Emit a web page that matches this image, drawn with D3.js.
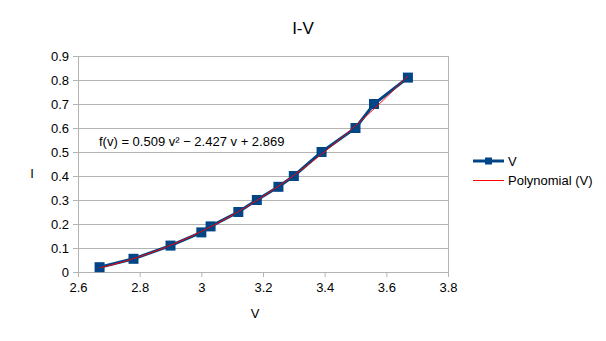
<!DOCTYPE html>
<html><head><meta charset="utf-8">
<script src="https://cdn.jsdelivr.net/npm/d3@7"></script>
<style>body{margin:0;background:#fff}svg{display:block;font-family:"Liberation Sans",Arial,sans-serif}</style>
</head><body><svg id="c" width="606" height="341"></svg>
<script>
const vValues = [2.67, 2.78, 2.90, 3.00, 3.03, 3.12, 3.18, 3.25, 3.30, 3.39, 3.50, 3.56, 3.67];
const iValues = [0.02, 0.055, 0.11, 0.165, 0.19, 0.25, 0.30, 0.355, 0.40, 0.50, 0.60, 0.70, 0.81];
const polyCoefs = [0.509, -2.427, 2.869];
const xTicks = [2.6, 2.8, 3, 3.2, 3.4, 3.6, 3.8];
const yTicks = [0, 0.1, 0.2, 0.3, 0.4, 0.5, 0.6, 0.7, 0.8, 0.9];
const seriesNames = ["V", "Polynomial (V)"];

const svg = d3.select("#c");
const L = 78, R = 448, T = 56, B = 272;
const x = d3.scaleLinear().domain([2.6, 3.8]).range([L, R]);
const y = d3.scaleLinear().domain([0, 0.9]).range([B, T]);

// grid
svg.append("g").selectAll("line").data(yTicks).join("line")
  .attr("x1", L).attr("x2", R).attr("y1", d => y(d)).attr("y2", d => y(d))
  .attr("stroke", "#b3b3b3").attr("stroke-width", 1).attr("shape-rendering", "crispEdges");
svg.append("line").attr("x1", R).attr("x2", R).attr("y1", T).attr("y2", B)
  .attr("stroke", "#b3b3b3").attr("shape-rendering", "crispEdges");

// axes
const xAxis = svg.append("g").attr("transform", `translate(0,${B})`)
  .call(d3.axisBottom(x).tickValues(xTicks).tickFormat(d3.format("")).tickSizeOuter(0).tickSize(5).tickPadding(6));
const yAxis = svg.append("g").attr("transform", `translate(${L},0)`)
  .call(d3.axisLeft(y).tickValues(yTicks).tickFormat(d3.format("")).tickSizeOuter(0).tickSize(5).tickPadding(4));
[xAxis, yAxis].forEach(g => {
  g.select(".domain").attr("stroke", "#b3b3b3");
  g.selectAll(".tick line").attr("stroke", "#b3b3b3");
  g.selectAll("text").attr("fill", "#000").attr("font-size", 13).attr("font-family", "Liberation Sans, Arial, sans-serif");
});

// data line
const data = vValues.map((v, i) => [v, iValues[i]]);
svg.append("path").datum(data)
  .attr("d", d3.line().x(d => x(d[0])).y(d => y(d[1])))
  .attr("fill", "none").attr("stroke", "#004586").attr("stroke-width", 3);
svg.append("g").selectAll("rect").data(data).join("rect")
  .attr("x", d => x(d[0]) - 5).attr("y", d => y(d[1]) - 5)
  .attr("width", 10).attr("height", 10).attr("fill", "#004586");

// trend line
const poly = v => polyCoefs[0] * v * v + polyCoefs[1] * v + polyCoefs[2];
const vMin = d3.min(vValues), vMax = d3.max(vValues);
const trend = d3.range(0, 101).map(k => { const v = vMin + (vMax - vMin) * k / 100; return [v, poly(v)]; });
svg.append("path").datum(trend)
  .attr("d", d3.line().x(d => x(d[0])).y(d => y(d[1])))
  .attr("fill", "none").attr("stroke", "#ff0000").attr("stroke-width", 1);

// equation
svg.append("text").attr("x", 99).attr("y", 146).attr("font-size", 13)
  .text(`f(v) = ${polyCoefs[0]} v² − ${Math.abs(polyCoefs[1])} v + ${polyCoefs[2]}`);

// titles
svg.append("text").attr("x", 303).attr("y", 34).attr("text-anchor", "middle").attr("font-size", 17).text("I-V");
svg.append("text").attr("x", 255).attr("y", 318).attr("text-anchor", "middle").attr("font-size", 13).text("V");
svg.append("text").attr("x", 32).attr("y", 178).attr("text-anchor", "middle").attr("font-size", 13).text("I");

// legend
const lg = svg.append("g");
lg.append("line").attr("x1", 473).attr("x2", 504).attr("y1", 161).attr("y2", 161)
  .attr("stroke", "#004586").attr("stroke-width", 3);
lg.append("rect").attr("x", 485).attr("y", 157.5).attr("width", 7).attr("height", 7).attr("fill", "#004586");
lg.append("text").attr("x", 508).attr("y", 166).attr("font-size", 13).text(seriesNames[0]);
lg.append("line").attr("x1", 473).attr("x2", 504).attr("y1", 180.5).attr("y2", 180.5)
  .attr("stroke", "#ff0000").attr("stroke-width", 1);
lg.append("text").attr("x", 508).attr("y", 185).attr("font-size", 13).text(seriesNames[1]);
</script></body></html>
